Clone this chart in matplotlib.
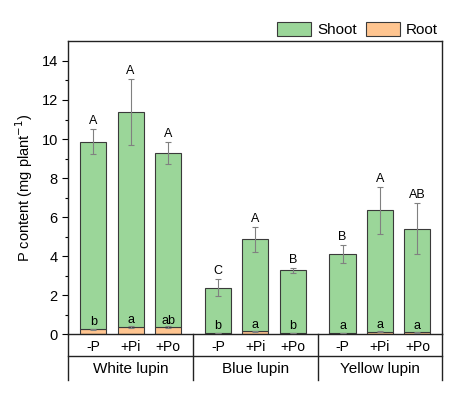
import numpy as np
import matplotlib
matplotlib.use('Agg')
import matplotlib.pyplot as plt
from matplotlib.patches import Patch

plt.rcParams['font.family'] = ['Liberation Sans', 'DejaVu Sans']
plt.rcParams['font.size'] = 10

species = ['White lupin', 'Blue lupin', 'Yellow lupin']
treatments = ['-P', '+Pi', '+Po']

# total height (shoot + root) and its error
total = np.array([9.87, 11.39, 9.30, 2.39, 4.88, 3.28, 4.10, 6.35, 5.41])
total_err = np.array([0.65, 1.68, 0.57, 0.43, 0.64, 0.13, 0.46, 1.20, 1.30])
root = np.array([0.26, 0.37, 0.36, 0.08, 0.15, 0.07, 0.06, 0.13, 0.10])
root_err = np.array([0.03, 0.05, 0.05, 0.01, 0.02, 0.01, 0.01, 0.02, 0.01])
shoot = total - root

shoot_letters = ['A', 'A', 'A', 'C', 'A', 'B', 'B', 'A', 'AB']
root_letters = ['b', 'a', 'ab', 'b', 'a', 'b', 'a', 'a', 'a']

green = '#9bd699'
orange = '#ffc590'
edge = '#3a3a3a'

fig = plt.figure(figsize=(4.69, 3.98), dpi=100)
ax = fig.add_axes([0.1456, 0.160, 0.7975, 0.736])

x = np.array([g * 10 + p for g in range(3) for p in (2, 5, 8)], dtype=float)
w = 2.1

ax.bar(x, root, w, color=orange, edgecolor=edge, linewidth=0.8, zorder=2)
ax.bar(x, shoot, w, bottom=root, color=green, edgecolor=edge, linewidth=0.8, zorder=2)
ax.errorbar(x, total, yerr=total_err, fmt='none', ecolor='#808080',
            elinewidth=0.8, capsize=2, capthick=0.8, zorder=3)
ax.errorbar(x, root, yerr=root_err, fmt='none', ecolor='#808080',
            elinewidth=0.8, capsize=2, capthick=0.8, zorder=3)

for xi, t, e, s in zip(x, total, total_err, shoot_letters):
    ax.text(xi, t + e + 0.1, s, ha='center', va='bottom', fontsize=9)
for xi, r, s in zip(x, root, root_letters):
    ax.text(xi, r + 0.04, s, ha='center', va='bottom', fontsize=9)

ax.set_xlim(0, 30)
ax.set_ylim(0, 15)
ax.set_yticks(np.arange(0, 15, 2))
ax.set_yticks(np.arange(1, 15, 2), minor=True)
ax.tick_params(axis='y', which='major', direction='out', length=4, width=0.8, labelsize=10.5)
ax.tick_params(axis='y', which='minor', direction='out', length=2.5, width=0.8)
ax.set_xticks(x)
ax.set_xticklabels(treatments * 3, fontsize=10)
ax.tick_params(axis='x', length=0, pad=4)
ax.set_ylabel('P content (mg plant$^{-1}$)', fontsize=10.5, labelpad=5)

for sp in ax.spines.values():
    sp.set_linewidth(1.0)
    sp.set_color('#222222')

# table-like category rows below the axes
trans = ax.get_xaxis_transform()
ax.plot([0, 30], [-0.074, -0.074], transform=trans, color='#222222', lw=1.0, clip_on=False)
for xs in (0, 10, 20, 30):
    ax.plot([xs, xs], [0, -0.156], transform=trans, color='#222222', lw=1.0, clip_on=False)
for g, name in enumerate(species):
    ax.text(g * 10 + 5, -0.117, name, transform=trans, ha='center', va='center', fontsize=11)

handles = [Patch(facecolor=green, edgecolor=edge, linewidth=0.8, label='Shoot'),
           Patch(facecolor=orange, edgecolor=edge, linewidth=0.8, label='Root')]
ax.legend(handles=handles, ncol=2, loc='lower right', bbox_to_anchor=(1.0, 1.0),
          frameon=False, fontsize=11, handlelength=2.2, handleheight=1.05,
          columnspacing=0.6, handletextpad=0.4, borderaxespad=0.1, borderpad=0.2)

fig.savefig('out.png', dpi=100)
